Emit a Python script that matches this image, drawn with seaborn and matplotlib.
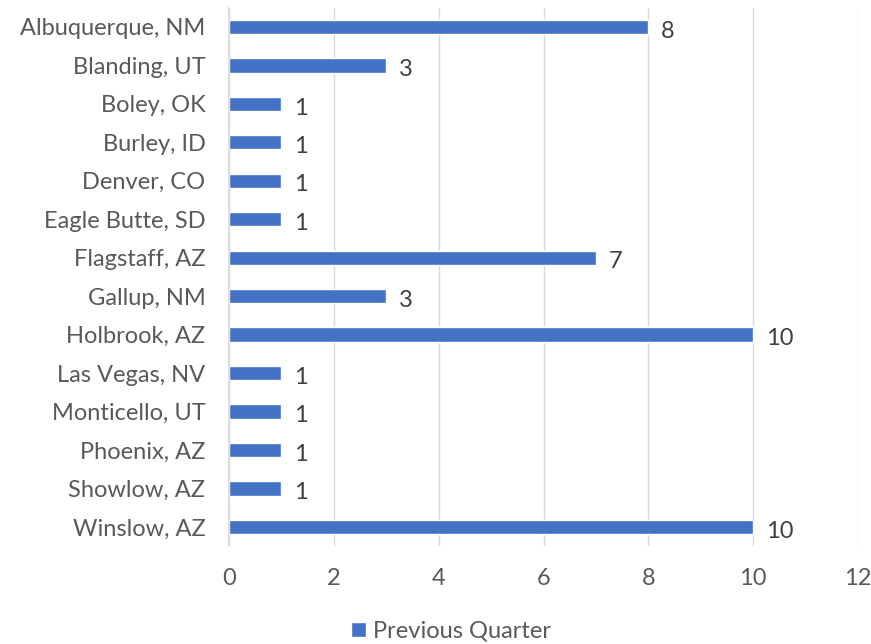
import pandas as pd
import seaborn as sns
import matplotlib.pyplot as plt

cities = ["Albuquerque, NM", "Blanding, UT", "Boley, OK", "Burley, ID", "Denver, CO",
          "Eagle Butte, SD", "Flagstaff, AZ", "Gallup, NM", "Holbrook, AZ", "Las Vegas, NV",
          "Monticello, UT", "Phoenix, AZ", "Showlow, AZ", "Winslow, AZ"]
previous_quarter = [8, 3, 1, 1, 1, 1, 7, 3, 10, 1, 1, 1, 1, 10]

df = pd.DataFrame({"city": cities, "value": previous_quarter})

sns.set_style("white")
plt.rcParams["font.family"] = ["Lato", "DejaVu Sans"]

fig = plt.figure(figsize=(8.71, 6.44), dpi=100)
ax = fig.add_axes([0.263, 0.152, 0.722, 0.836])

sns.barplot(data=df, x="value", y="city", orient="h", color="#4472C4",
            width=0.37, saturation=1, ax=ax, label="Previous Quarter")

ax.set_xlim(0, 12)
ax.set_xticks(range(0, 13, 2))
ax.xaxis.grid(True, color="#D9D9D9", linewidth=1)
ax.set_axisbelow(True)
for s in ["top", "right", "bottom"]:
    ax.spines[s].set_visible(False)
ax.spines["left"].set_color("#D9D9D9")
ax.spines["left"].set_linewidth(1.2)
ax.set_xlabel("")
ax.set_ylabel("")
ax.tick_params(axis="both", length=0, labelsize=17, labelcolor="#595959")
ax.tick_params(axis="x", pad=16)
ax.tick_params(axis="y", pad=17)

# data labels, nudged a little below bar centre like the original
labels = ax.bar_label(ax.containers[0], padding=9, fontsize=17, color="#404040")
for t in labels:
    t.xyann = (9, -3)

ax.legend(loc="center", bbox_to_anchor=(0.353, -0.158), frameon=False,
          fontsize=17, handlelength=0.6, handleheight=0.6, handletextpad=0.3,
          labelcolor="#595959")

fig.savefig("out.png", dpi=100)
